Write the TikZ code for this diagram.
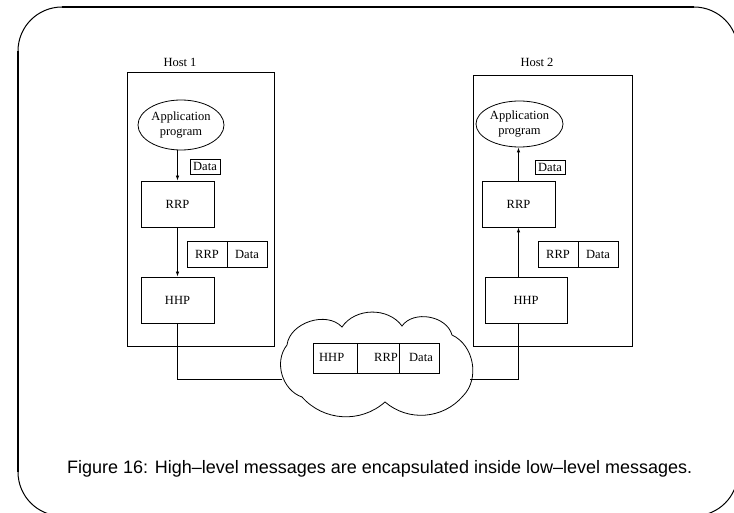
\documentclass[tikz,border=0pt]{standalone}
\usepackage{fontspec}
\setmainfont{Liberation Serif}
\newfontfamily\capfont{Liberation Sans}
\usetikzlibrary{arrows.meta,shapes.geometric}
\begin{document}
\begin{tikzpicture}[x=1pt,y=-1pt,
  box/.style={draw,rectangle,inner sep=0pt,line width=0.8pt,font=\fontsize{12.5}{13}\selectfont},
  oval/.style={draw,ellipse,inner sep=0pt,line width=0.8pt,align=center,font=\fontsize{12.5}{15}\selectfont},
  lbl/.style={inner sep=0pt,font=\fontsize{12.5}{13}\selectfont},
  arr/.style={line width=0.8pt,-{Latex[length=5pt,width=3.5pt]}},
  wire/.style={line width=0.8pt}]
\useasboundingbox (0,0) rectangle (734,513);
% frame
\draw[line width=1pt,rounded corners=44pt] (18,7) rectangle (738,516);
\draw[line width=2pt] (62,7) -- (694,7);
\draw[line width=2pt] (18,51) -- (18,472);
% Host 1
\node[lbl] (h1lbl) at (180,62) {Host 1};
\node[box,minimum width=147pt,minimum height=274pt] (h1box) at (200.5,209) {};
\node[oval,minimum width=86pt,minimum height=50pt] (app1) at (181,125) {Application\\program};
\node[box,minimum width=30pt,minimum height=15pt] (data1) at (205,166.5) {Data};
\node[box,minimum width=73pt,minimum height=46pt] (rrp1) at (177.5,204) {RRP};
\node[box,minimum width=40pt,minimum height=26pt] (m1a) at (207,254) {RRP};
\node[box,minimum width=40pt,minimum height=26pt] (m1b) at (247,254) {Data};
\node[box,minimum width=73pt,minimum height=46pt] (hhp1) at (177.5,300) {HHP};
\draw[arr] (app1.south -| rrp1.north) -- (rrp1.north);
\draw[arr] (rrp1.south) -- (hhp1.north);
% Host 2
\node[lbl] (h2lbl) at (537,62) {Host 2};
\node[box,minimum width=159pt,minimum height=271pt] (h2box) at (552.5,210.5) {};
\node[oval,minimum width=87pt,minimum height=46pt] (app2) at (519.5,124) {Application\\program};
\node[box,minimum width=30pt,minimum height=14pt] (data2) at (550,167) {Data};
\node[box,minimum width=73pt,minimum height=46pt] (rrp2) at (518.5,204) {RRP};
\node[box,minimum width=40pt,minimum height=26pt] (m2a) at (558,254) {RRP};
\node[box,minimum width=40pt,minimum height=26pt] (m2b) at (598,254) {Data};
\node[box,minimum width=82pt,minimum height=46pt] (hhp2) at (526,300) {HHP};
\coordinate (h2top) at (518.5,277);
\coordinate (h2bot) at (518.5,323);
\draw[arr] (h2top) -- (rrp2.south);
\draw[arr] (rrp2.north) -- (app2.south -| rrp2.north);
% cloud
\coordinate (c1) at (287,345);
\coordinate (c2) at (342,327);
\coordinate (c3) at (402,326);
\coordinate (c4) at (452,335);
\coordinate (c5) at (463,396);
\coordinate (c6) at (385,402);
\coordinate (c7) at (302,397);
\draw[line width=0.8pt] (c1) to[bend left=65] (c2) to[bend left=55] (c3) to[bend left=65] (c4)
  to[bend left=55] (c5) to[bend left=45] (c6) to[bend left=45] (c7) to[bend left=55] (c1);
\coordinate (cl) at (282,379);
\coordinate (cr) at (470,379);
\node[box,minimum width=44pt,minimum height=30pt] (p1) at (335,358) {};
\node[box,minimum width=42pt,minimum height=30pt] (p2) at (378,358) {};
\node[box,minimum width=40pt,minimum height=30pt] (p3) at (419,358) {};
\node[lbl,anchor=west] (t1) at (319,357) {HHP};
\node[lbl,anchor=east] (t2) at (398,357) {RRP};
\node[lbl] (t3) at (421,357) {Data};
% wires
\draw[wire] (hhp1.south) |- (cl);
\draw[wire] (h2bot) |- (cr);
% caption
\node[anchor=base west,inner sep=0pt,font=\capfont\fontsize{18}{20}\selectfont] (cap) at (67,473)
  {Figure 16: High–level messages are encapsulated inside low–level messages.};
\end{tikzpicture}
\end{document}
